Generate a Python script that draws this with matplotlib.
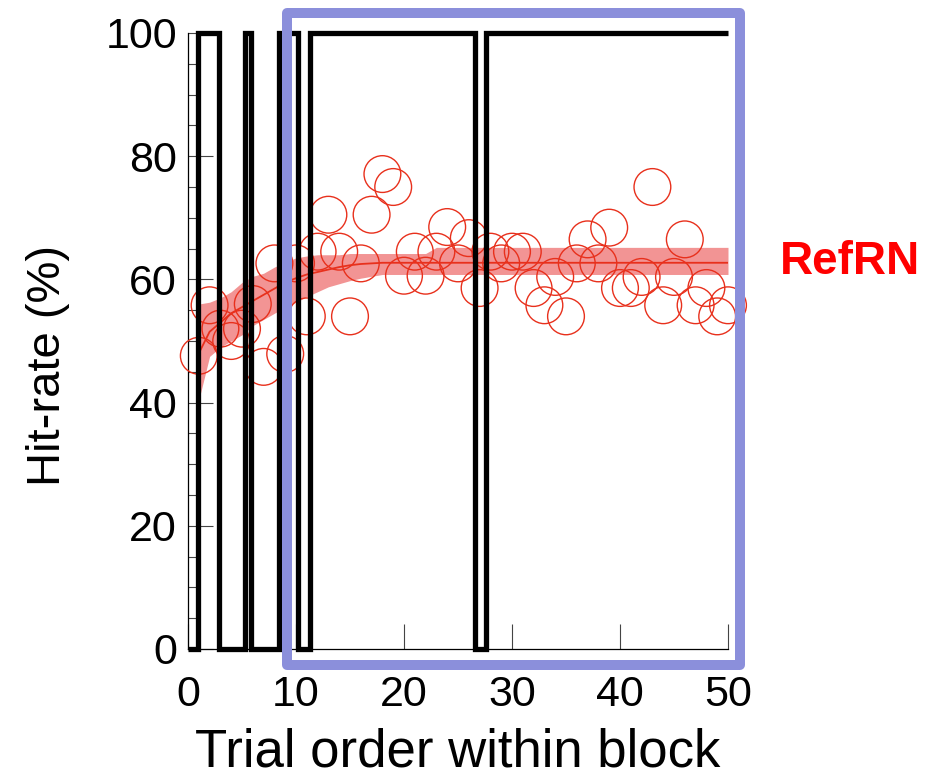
import numpy as np
import matplotlib
matplotlib.use("Agg")
import matplotlib.pyplot as plt
from matplotlib.patches import Rectangle

plt.rcParams["font.family"] = ["Liberation Sans", "DejaVu Sans"]

# hit-rate per trial (open circles)
trial = np.arange(1, 51)
hit_rate = [47.6, 55.8, 52.0, 50.0, 52.0, 56.0, 45.8, 62.6, 47.9, 62.6,
            54.0, 64.5, 70.5, 64.5, 54.0, 62.6, 70.5, 77.1, 75.0, 60.6,
            64.5, 60.6, 64.5, 68.5, 62.6, 66.7, 58.6, 64.5, 62.6, 64.5,
            64.5, 58.6, 55.8, 60.4, 54.0, 62.6, 66.5, 62.6, 68.4, 58.6,
            58.6, 60.4, 75.0, 55.8, 60.4, 66.5, 55.8, 58.6, 54.0, 55.8]

# fitted curve and its band
fit_mean = [48.0, 51.5, 53.0, 54.5, 55.5, 56.5, 57.5, 58.5, 59.5, 60.2,
            60.8, 61.2, 61.6, 62.0, 62.3, 62.5, 62.6] + [62.7] * 33
fit_lo = [40.4, 47.5, 49.0, 50.0, 51.0, 52.5, 53.5, 54.5, 55.5, 56.3,
          57.2, 58.0, 58.8, 59.3, 59.8, 60.2, 60.5] + [60.8] * 33
fit_hi = [56.0, 56.3, 57.0, 58.0, 59.5, 60.5, 61.0, 62.0, 62.8, 63.5,
          63.8, 64.0, 64.0, 64.0, 64.2, 64.2, 64.2, 64.2, 64.2, 64.2,
          64.2, 64.2] + [65.2] * 28

# black 0/100 trace
step_edges = [0, 0.97, 2.87, 5.32, 5.79, 8.43, 10.14, 11.34, 26.57, 27.59, 50]
step_levels = [0, 100, 0, 100, 0, 100, 0, 100, 0, 100]

red = "#E8301C"

fig = plt.figure(figsize=(9.27, 7.8), dpi=100)
ax = fig.add_axes([188 / 927, 1 - 649 / 780, 540 / 927, 616 / 780])

ax.fill_between(trial, fit_lo, fit_hi, color="#F29494", lw=0, zorder=1)
ax.plot(trial, fit_mean, color=red, lw=1.3, zorder=2)
ax.scatter(trial, hit_rate, s=700, facecolors="none", edgecolors=red,
           linewidths=1.0, zorder=3, clip_on=False)
ax.stairs(step_levels, step_edges, baseline=None, color="black", lw=3.8,
          zorder=4, clip_on=False)

# highlighted window
box = Rectangle((9.14, -2.6), 51.1 - 9.14, 103.2 + 2.6, fill=False,
                edgecolor="#8B8FDB", lw=7.2, joinstyle="round",
                clip_on=False, zorder=5)
ax.add_patch(box)

ax.text(61.3, 62.8, "RefRN", color="#FF0000", fontsize=33,
        fontweight="bold", ha="center", va="center", clip_on=False)

ax.set_xlim(0, 50)
ax.set_ylim(0, 100)
ax.set_xticks([0, 10, 20, 30, 40, 50])
ax.set_yticks([0, 20, 40, 60, 80, 100])
ax.set_yticks(np.arange(0, 101, 5), minor=True)
ax.tick_params(axis="both", which="major", direction="in", length=18,
               width=0.8, color="#444444", labelsize=31)
ax.tick_params(axis="x", pad=19)
ax.tick_params(axis="y", pad=8)
ax.tick_params(axis="y", which="minor", direction="in", length=6,
               width=0.8, color="#444444")

for side in ["top", "right"]:
    ax.spines[side].set_visible(False)
for side in ["left", "bottom"]:
    ax.spines[side].set_linewidth(0.9)

ax.set_xlabel("Trial order within block", fontsize=38)
ax.set_ylabel("Hit-rate (%)", fontsize=34)
ax.xaxis.set_label_coords(0.5, -0.128)
ax.yaxis.set_label_coords(-0.218, 0.46)

fig.savefig("out.png", dpi=100)
